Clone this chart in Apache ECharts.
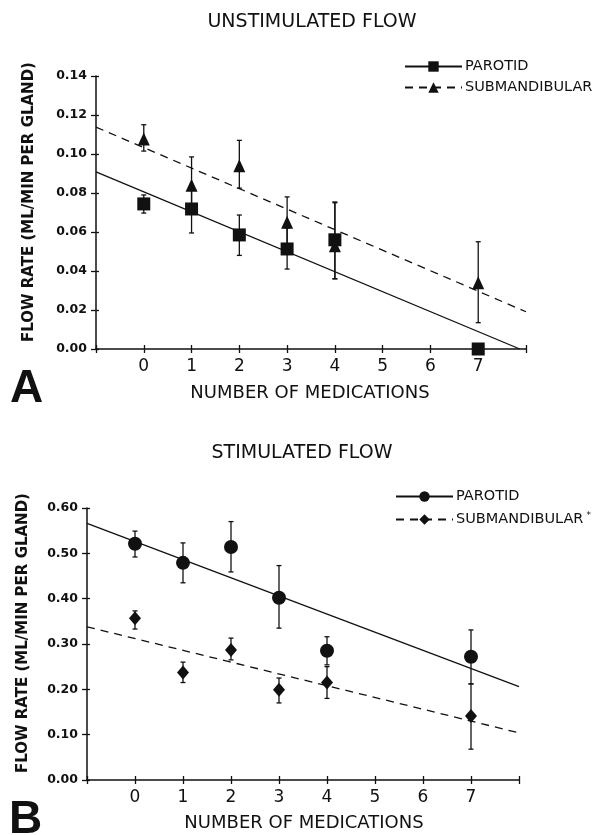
<!DOCTYPE html>
<html>
<head>
<meta charset="utf-8">
<script src="https://cdn.jsdelivr.net/npm/echarts@6/dist/echarts.min.js"></script>
<style>
html,body{margin:0;padding:0;background:#fff;}
#chart{width:607px;height:835px;}
</style>
</head>
<body>
<div id="chart"></div>
<script>
// ---------- Data: Panel A (unstimulated flow) ----------
const medsA = [0, 1, 2, 3, 4, 7];
const parotidA      = [0.0744, 0.0718, 0.0585, 0.0513, 0.0560, 0.0000];
const parotidALow   = [0.0697, 0.0595, 0.0480, 0.0410, 0.0360, 0.0000];
const parotidAHigh  = [0.0790, 0.0840, 0.0687, 0.0620, 0.0754, 0.0000];
const submandA      = [0.1077, 0.0840, 0.0940, 0.0650, 0.0530, 0.0340];
const submandALow   = [0.1015, 0.0720, 0.0825, 0.0520, 0.0360, 0.0135];
const submandAHigh  = [0.1150, 0.0985, 0.1070, 0.0780, 0.0750, 0.0550];
const fitParotidA   = [[-1, 0.0908], [7.87, 0.0]];
const fitSubmandA   = [[-1, 0.1138], [8, 0.0191]];

// ---------- Data: Panel B (stimulated flow) ----------
const medsB = [0, 1, 2, 3, 4, 7];
const parotidB      = [0.521, 0.479, 0.514, 0.402, 0.285, 0.272];
const parotidBLow   = [0.492, 0.435, 0.459, 0.335, 0.254, 0.212];
const parotidBHigh  = [0.549, 0.523, 0.570, 0.473, 0.316, 0.331];
const submandB      = [0.357, 0.237, 0.287, 0.199, 0.215, 0.141];
const submandBLow   = [0.333, 0.215, 0.265, 0.170, 0.180, 0.068];
const submandBHigh  = [0.373, 0.260, 0.313, 0.225, 0.250, 0.212];
const fitParotidB   = [[-1, 0.566], [8, 0.206]];
const fitSubmandB   = [[-1, 0.338], [8, 0.104]];

// ---------- Axis ticks ----------
const xMin = -1, xMax = 8;
const xTickLabels = ['0', '1', '2', '3', '4', '5', '6', '7'];
const yTicksA = { min: 0, max: 0.14, interval: 0.02 };
const yTicksB = { min: 0, max: 0.60, interval: 0.10 };

const titles = ['UNSTIMULATED FLOW', 'STIMULATED FLOW'];
const xName = 'NUMBER OF MEDICATIONS';
const yName = 'FLOW RATE (ML/MIN PER GLAND)';

// ---------- helpers ----------
const INK = '#111';
const pts = (xs, ys) => xs.map((x, i) => [x, ys[i]]);
const bars = (xs, lo, hi) => xs.map((x, i) => [x, lo[i], hi[i]]);

function errorRender(params, api) {
  const x = api.value(0), lo = api.value(1), hi = api.value(2);
  if (hi - lo <= 0) return null;
  const p1 = api.coord([x, hi]);
  const p2 = api.coord([x, lo]);
  const c = 2.5;
  const st = { stroke: INK, lineWidth: 1.3 };
  return {
    type: 'group',
    children: [
      { type: 'line', shape: { x1: p1[0], y1: p1[1], x2: p2[0], y2: p2[1] }, style: st },
      { type: 'line', shape: { x1: p1[0] - c, y1: p1[1], x2: p1[0] + c, y2: p1[1] }, style: st },
      { type: 'line', shape: { x1: p2[0] - c, y1: p2[1], x2: p2[0] + c, y2: p2[1] }, style: st }
    ]
  };
}

function xAxisMain(gi) {
  return {
    type: 'value', gridIndex: gi, position: 'bottom', min: xMin, max: xMax, interval: 1,
    axisLine: { show: true, onZero: false, lineStyle: { color: INK, width: 1.5 } },
    axisTick: { show: true, length: 4, lineStyle: { color: INK, width: 1.3 } },
    axisLabel: {
      margin: 9, color: INK, fontFamily: 'DejaVu Sans', fontSize: 17,
      formatter: v => (v >= 0 && v <= 7) ? xTickLabels[v] : ''
    },
    splitLine: { show: false }
  };
}
function xAxisOverlay(gi) {
  return {
    type: 'value', gridIndex: gi, position: 'bottom', min: xMin, max: xMax, interval: 1,
    axisLine: { show: false, onZero: false },
    axisTick: { show: true, inside: true, length: 4, lineStyle: { color: INK, width: 1.3 } },
    axisLabel: { show: false }, splitLine: { show: false }
  };
}
function yAxisMain(gi, t) {
  return {
    type: 'value', gridIndex: gi, position: 'left', min: t.min, max: t.max, interval: t.interval,
    axisLine: { show: true, onZero: false, lineStyle: { color: INK, width: 1.5 } },
    axisTick: { show: true, length: 5, lineStyle: { color: INK, width: 1.3 } },
    axisLabel: {
      margin: 9, color: INK, fontFamily: 'DejaVu Sans', fontWeight: 'bold', fontSize: 12.5,
      formatter: v => v.toFixed(2)
    },
    splitLine: { show: false }
  };
}
function yAxisOverlay(gi, t) {
  return {
    type: 'value', gridIndex: gi, position: 'left', min: t.min, max: t.max, interval: t.interval,
    axisLine: { show: false, onZero: false },
    axisTick: { show: true, inside: true, length: 3, lineStyle: { color: INK, width: 1.3 } },
    axisLabel: { show: false }, splitLine: { show: false }
  };
}

const legendText = {
  color: INK, fontFamily: 'DejaVu Sans', fontSize: 14.5, padding: [0, 0, 0, -2],
  rich: { sup: { fontSize: 9, verticalAlign: 'top', color: INK, fontFamily: 'DejaVu Sans', padding: [0, 0, 8, 3] } }
};

const option = {
  backgroundColor: '#fff',
  animation: false,
  grid: [
    { left: 96, top: 76, width: 430, height: 273 },
    { left: 87, top: 508, width: 432, height: 272 }
  ],
  xAxis: [xAxisMain(0), xAxisMain(1), xAxisOverlay(0), xAxisOverlay(1)],
  yAxis: [yAxisMain(0, yTicksA), yAxisMain(1, yTicksB), yAxisOverlay(0, yTicksA), yAxisOverlay(1, yTicksB)],
  legend: [
    {
      left: 404, top: 59, padding: 0, orient: 'vertical', itemWidth: 57, itemHeight: 13, itemGap: 6,
      data: ['A|PAROTID', 'A|SUBMANDIBULAR'],
      formatter: n => n.split('|')[1],
      textStyle: legendText, selectedMode: false
    },
    {
      left: 395, top: 489, padding: 0, orient: 'vertical', itemWidth: 57, itemHeight: 13, itemGap: 7,
      data: ['B|PAROTID', 'B|SUBMANDIBULAR'],
      formatter: n => n.split('|')[1] + (n.indexOf('SUBMAND') >= 0 ? '{sup|*}' : ''),
      textStyle: legendText, selectedMode: false
    }
  ],
  graphic: [
    { type: 'text', x: 312, y: 22, style: { text: titles[0], fill: INK, font: '19px "DejaVu Sans"', align: 'center', verticalAlign: 'middle' } },
    { type: 'text', x: 302, y: 453, style: { text: titles[1], fill: INK, font: '19px "DejaVu Sans"', align: 'center', verticalAlign: 'middle' } },
    { type: 'text', x: 310, y: 393, style: { text: xName, fill: INK, font: '18px "DejaVu Sans"', align: 'center', verticalAlign: 'middle' } },
    { type: 'text', x: 304, y: 823, style: { text: xName, fill: INK, font: '18px "DejaVu Sans"', align: 'center', verticalAlign: 'middle' } },
    { type: 'text', x: 29, y: 202, rotation: Math.PI / 2, style: { text: yName, fill: INK, font: 'bold 15px "DejaVu Sans"', align: 'center', verticalAlign: 'middle' } },
    { type: 'text', x: 23, y: 633, rotation: Math.PI / 2, style: { text: yName, fill: INK, font: 'bold 15px "DejaVu Sans"', align: 'center', verticalAlign: 'middle' } },
    { type: 'text', x: 10, y: 366, style: { text: 'A', fill: INK, font: 'bold 46px "Liberation Sans"' } },
    { type: 'text', x: 9, y: 797, style: { text: 'B', fill: INK, font: 'bold 46px "Liberation Sans"' } }
  ],
  series: [
    // Panel A fit lines (also carry the legend icons)
    { name: 'A|PAROTID', type: 'line', xAxisIndex: 0, yAxisIndex: 0, data: fitParotidA,
      symbol: 'rect', symbolSize: 10, showSymbol: false, itemStyle: { color: INK },
      lineStyle: { color: INK, width: 1.3, type: 'solid' }, z: 2, silent: true },
    { name: 'A|SUBMANDIBULAR', type: 'line', xAxisIndex: 0, yAxisIndex: 0, data: fitSubmandA,
      symbol: 'triangle', symbolSize: 10, showSymbol: false, itemStyle: { color: INK },
      lineStyle: { color: INK, width: 1.3, type: [8, 6] }, z: 2, silent: true },
    // Panel A error bars
    { type: 'custom', xAxisIndex: 0, yAxisIndex: 0, renderItem: errorRender,
      data: bars(medsA, parotidALow, parotidAHigh), encode: { x: 0, y: [1, 2] }, z: 3, clip: false },
    { type: 'custom', xAxisIndex: 0, yAxisIndex: 0, renderItem: errorRender,
      data: bars(medsA, submandALow, submandAHigh), encode: { x: 0, y: [1, 2] }, z: 3, clip: false },
    // Panel A points
    { name: 'pA', type: 'scatter', xAxisIndex: 0, yAxisIndex: 0, data: pts(medsA, parotidA),
      symbol: 'rect', symbolSize: 13, itemStyle: { color: INK, opacity: 1 }, z: 4, clip: false },
    { name: 'sA', type: 'scatter', xAxisIndex: 0, yAxisIndex: 0, data: pts(medsA, submandA),
      symbol: 'triangle', symbolSize: [12, 13], itemStyle: { color: INK, opacity: 1 }, z: 4, clip: false },

    // Panel B fit lines
    { name: 'B|PAROTID', type: 'line', xAxisIndex: 1, yAxisIndex: 1, data: fitParotidB,
      symbol: 'circle', symbolSize: 10, showSymbol: false, itemStyle: { color: INK },
      lineStyle: { color: INK, width: 1.3, type: 'solid' }, z: 2, silent: true },
    { name: 'B|SUBMANDIBULAR', type: 'line', xAxisIndex: 1, yAxisIndex: 1, data: fitSubmandB,
      symbol: 'diamond', symbolSize: 10, showSymbol: false, itemStyle: { color: INK },
      lineStyle: { color: INK, width: 1.3, type: [8, 6] }, z: 2, silent: true },
    // Panel B error bars
    { type: 'custom', xAxisIndex: 1, yAxisIndex: 1, renderItem: errorRender,
      data: bars(medsB, parotidBLow, parotidBHigh), encode: { x: 0, y: [1, 2] }, z: 3, clip: false },
    { type: 'custom', xAxisIndex: 1, yAxisIndex: 1, renderItem: errorRender,
      data: bars(medsB, submandBLow, submandBHigh), encode: { x: 0, y: [1, 2] }, z: 3, clip: false },
    // Panel B points
    { name: 'pB', type: 'scatter', xAxisIndex: 1, yAxisIndex: 1, data: pts(medsB, parotidB),
      symbol: 'circle', symbolSize: 14, itemStyle: { color: INK, opacity: 1 }, z: 4, clip: false },
    { name: 'sB', type: 'scatter', xAxisIndex: 1, yAxisIndex: 1, data: pts(medsB, submandB),
      symbol: 'diamond', symbolSize: [12, 14], itemStyle: { color: INK, opacity: 1 }, z: 4, clip: false }
  ]
};

const chart = echarts.init(document.getElementById('chart'), null, { renderer: 'canvas' });
chart.setOption(option);
</script>
</body>
</html>
